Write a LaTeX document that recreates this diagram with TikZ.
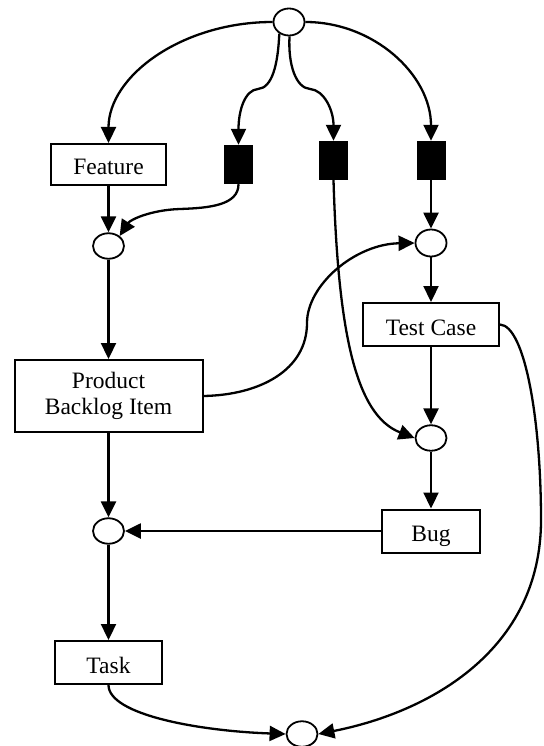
\documentclass[tikz,border=0pt]{standalone}
\usepackage{fontspec}
\setmainfont{Liberation Serif}
\usetikzlibrary{shapes.geometric,arrows.meta}

\tikzset{
  place/.style={draw, ellipse, line width=1.8pt, fill=white,
    minimum width=31pt, minimum height=25.5pt, inner sep=0pt},
  box/.style={draw, rectangle, line width=2pt, inner sep=0pt,
    font=\fontsize{23.5}{26.6}\selectfont},
  oneline/.style={box, text height=21pt, text depth=0pt},
  trans/.style={draw=none, fill=black, rectangle, inner sep=0pt,
    minimum width=29pt, minimum height=39pt},
  flow/.style={line width=2.3pt, -{Triangle[length=16pt,width=15pt]}},
}

\begin{document}
\begin{tikzpicture}[x=1pt, y=-1pt]
\useasboundingbox (0,0) rectangle (543,746);

% places
\node[place, minimum height=27pt] (top) at (289,22) {};
\node[place] (l1) at (108.5,246) {};
\node[place, minimum height=27pt] (r1) at (431,243) {};
\node[place] (r2) at (431,438) {};
\node[place] (l3) at (108.5,531) {};
\node[place] (bot) at (302,734) {};

% transitions
\node[trans] (t1) at (238.5,164.5) {};
\node[trans] (t2) at (333.5,160.5) {};
\node[trans] (t3) at (431,160.5) {};

% work item boxes
\node[oneline, minimum width=115pt, minimum height=41pt] (feat) at (108.5,164.5) {Feature};
\node[box, minimum width=188pt, minimum height=72pt, align=center] (pbi) at (108.5,396) {Product\\Backlog Item};
\node[oneline, minimum width=136pt, minimum height=43pt] (tc) at (431,324.5) {Test Case};
\node[oneline, minimum width=98pt, minimum height=43pt] (bug) at (431,531) {Bug};
\node[oneline, minimum width=107pt, minimum height=43pt] (task) at (108.5,662.5) {Task};

% arcs out of the top place
\draw[flow] (top.west) .. controls (182,22) and (108.5,76) .. (feat.north);
\draw[flow] (top.-130) .. controls (278,65) and (272,88) .. (258,89)
            .. controls (245,90) and (238.5,110) .. (t1.north);
\draw[flow] (top.-88) .. controls (288,65) and (296,88) .. (310,89)
            .. controls (324,90) and (333.5,110) .. (t2.north);
\draw[flow] (top.east) .. controls (374,22) and (431,75) .. (t3.north);

% left column
\draw[flow] (feat) -- (l1);
\draw[flow] (t1.south) .. controls (238.5,205) and (210,208) .. (180,209)
            .. controls (150,210) and (130,220) .. (l1.42);
\draw[flow] (l1) -- (pbi);
\draw[flow] (pbi) -- (l3);
\draw[flow] (l3) -- (task);

% right column
\draw[flow] (t3) -- (r1);
\draw[flow] (r1) -- (tc);
\draw[flow] (tc) -- (r2);
\draw[flow] (r2) -- (bug);
\draw[flow] (t2.south) .. controls (338,330) and (355,415) .. (r2.west);

% cross links
\draw[flow] (pbi.east) .. controls (260,395) and (307,370) .. (307,323)
            .. controls (307,285) and (355,244) .. (r1.west);
\draw[flow] (bug) -- (l3);
\draw[flow] (task.south) .. controls (108.5,715) and (200,731) .. (bot.west);
\draw[flow] (tc.east) .. controls (525,326) and (541,420) .. (541,520)
            .. controls (541,650) and (430,712) .. (bot.east);
\end{tikzpicture}
\end{document}
